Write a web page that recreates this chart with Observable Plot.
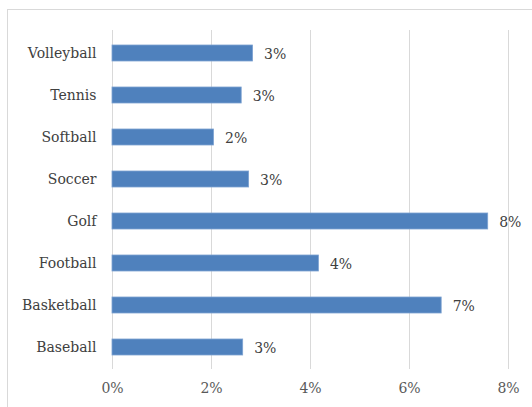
<!DOCTYPE html>
<html>
<head>
<meta charset="utf-8">
<script src="https://cdn.jsdelivr.net/npm/d3@7"></script>
<script src="https://cdn.jsdelivr.net/npm/@observablehq/plot@0.6"></script>
<style>
  html, body { margin: 0; padding: 0; background: #fff; overflow: hidden; }
  #wrap { position: relative; width: 532px; height: 407px; }
  #frame { position: absolute; left: 7px; top: 9px; width: 600px; height: 500px; border: 1px solid #d9d9d9; box-sizing: border-box; }
  #chart { position: absolute; left: 0; top: 0; }
</style>
</head>
<body>
<div id="wrap"><div id="frame"></div><div id="chart"></div></div>
<script>
const sports = ["Volleyball", "Tennis", "Softball", "Soccer", "Golf", "Football", "Basketball", "Baseball"];
const shares = [0.0284, 0.0261, 0.0205, 0.0276, 0.0759, 0.0417, 0.0665, 0.0264];
const xTicks = [0, 0.02, 0.04, 0.06, 0.08];

const data = sports.map((s, i) => ({sport: s, value: shares[i]}));

const chart = Plot.plot({
  width: 532,
  height: 407,
  marginLeft: 112,
  marginRight: 24,
  marginTop: 30,
  marginBottom: 38,
  style: {fontFamily: "'DejaVu Serif', serif", fontSize: "14px", color: "#595959", background: "transparent"},
  x: {domain: [0, 0.08], ticks: xTicks, tickFormat: d3.format(".0%"), label: null, tickSize: 0, tickPadding: 14},
  y: {domain: sports, paddingInner: 0.63, paddingOuter: 0.315, label: null, tickSize: 0, tickPadding: 16},
  marks: [
    Plot.gridX(xTicks, {stroke: "#d9d9d9", strokeOpacity: 1, strokeWidth: 1}),
    Plot.barX(data, {x: "value", y: "sport", fill: "#4f81bd", stroke: "#7da2d1", strokeWidth: 0.8}),
    Plot.text(data, {x: "value", y: "sport", text: d => Math.round(d.value * 100) + "%", textAnchor: "start", dx: 11, dy: 1, fill: "#404040", fontSize: 14}),
    Plot.axisX({ticks: xTicks, tickFormat: d3.format(".0%"), tickSize: 0, tickPadding: 14, fill: "#595959"}),
    Plot.axisY({tickSize: 0, tickPadding: 16, fill: "#404040"})
  ]
});
document.getElementById("chart").appendChild(chart);
</script>
</body>
</html>
